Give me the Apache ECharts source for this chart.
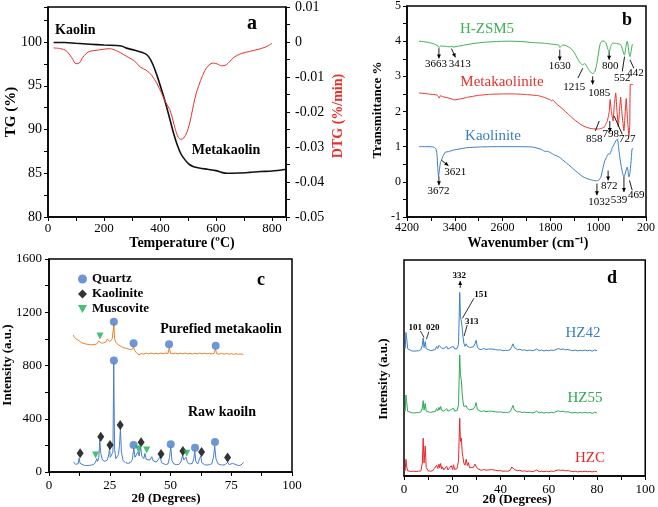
<!DOCTYPE html>
<html><head><meta charset="utf-8">
<script src="https://cdn.jsdelivr.net/npm/echarts@6/dist/echarts.min.js"></script>
<style>html,body{margin:0;padding:0;background:#fff}#c{width:658px;height:507px}</style>
</head><body><div id="c"></div>
<script>
// ---------- Panel a: TG / DTG ----------
const tgData = [[20,99.95],[60,99.95],[100,99.85],[150,99.75],[200,99.65],[262,99.55],[280,99.3],[310,99.05],[345,98.7],[360,98.3],[375,97.4],[390,96.1],[405,94.6],[420,93.0],[435,91.2],[450,89.4],[462,88.2],[475,87.2],[490,86.5],[505,86.0],[520,85.75],[540,85.6],[570,85.45],[600,85.3],[620,85.1],[640,85.0],[680,85.02],[720,85.1],[760,85.2],[800,85.25],[850,85.45]];
const dtgData = [[20,-0.0017],[45,-0.0019],[65,-0.0025],[85,-0.0045],[100,-0.0062],[112,-0.006],[125,-0.0043],[145,-0.0028],[180,-0.0023],[220,-0.0019],[245,-0.0025],[270,-0.0036],[290,-0.0045],[310,-0.0055],[330,-0.0072],[350,-0.008],[370,-0.0095],[390,-0.012],[405,-0.0145],[420,-0.0172],[435,-0.0193],[445,-0.022],[455,-0.025],[465,-0.0272],[475,-0.0278],[485,-0.0274],[495,-0.026],[505,-0.0235],[512,-0.021],[520,-0.0178],[530,-0.0145],[545,-0.011],[560,-0.0082],[575,-0.0066],[590,-0.006],[605,-0.0063],[620,-0.0068],[635,-0.0066],[650,-0.0055],[665,-0.0043],[690,-0.0033],[720,-0.0027],[750,-0.0021],[775,-0.0015],[800,-0.0004]];

// ---------- Panel b: FTIR ----------
const hzsm5Ir = [[4000,4.0],[3900,3.98],[3800,3.95],[3720,3.9],[3680,3.86],[3663,3.82],[3640,3.86],[3580,3.86],[3500,3.84],[3450,3.85],[3413,3.83],[3380,3.85],[3300,3.87],[3100,3.93],[2900,3.97],[2700,3.99],[2500,4.0],[2300,3.99],[2100,3.96],[2000,3.95],[1900,3.94],[1800,3.92],[1700,3.9],[1660,3.89],[1640,3.82],[1625,3.85],[1600,3.89],[1550,3.88],[1500,3.84],[1450,3.78],[1400,3.67],[1350,3.52],[1300,3.38],[1260,3.33],[1230,3.36],[1215,3.35],[1190,3.28],[1150,3.17],[1110,3.09],[1093,3.08],[1060,3.12],[1030,3.3],[1000,3.6],[970,3.9],[940,4.0],[900,4.0],[870,3.95],[840,3.78],[817,3.7],[790,3.85],[760,3.94],[734,3.94],[690,3.93],[650,3.92],[625,3.9],[595,3.78],[570,3.62],[559,3.61],[540,3.8],[514,4.0],[495,3.82],[480,3.62],[469,3.56],[450,3.7],[430,3.9],[415,3.91]];
const metaIr = [[4000,2.53],[3850,2.5],[3700,2.47],[3680,2.44],[3660,2.38],[3640,2.45],[3600,2.42],[3500,2.38],[3400,2.33],[3300,2.36],[3200,2.4],[3000,2.46],[2800,2.49],[2600,2.5],[2400,2.5],[2200,2.48],[2000,2.45],[1900,2.4],[1800,2.33],[1780,2.3],[1760,2.33],[1700,2.22],[1600,2.08],[1500,1.92],[1400,1.77],[1300,1.64],[1200,1.55],[1100,1.51],[1000,1.5],[950,1.52],[900,1.55],[870,1.65],[850,1.72],[830,1.85],[815,2.0],[800,2.34],[780,2.0],[750,1.73],[730,2.2],[707,2.53],[685,2.0],[663,1.56],[645,2.0],[625,2.41],[600,1.9],[569,1.45],[550,1.9],[531,2.37],[510,1.8],[486,1.31],[472,1.6],[462,2.77],[415,2.77]];
const kaolIr = [[4000,1.0],[3850,1.0],[3760,0.99],[3720,0.95],[3700,0.8],[3685,0.4],[3672,0.15],[3660,0.3],[3640,0.55],[3621,0.62],[3600,0.72],[3560,0.84],[3500,0.86],[3430,0.9],[3300,0.94],[3200,0.97],[3000,0.99],[2700,1.0],[2400,1.0],[2100,0.99],[1950,0.92],[1880,0.86],[1850,0.87],[1820,0.85],[1750,0.78],[1650,0.7],[1550,0.56],[1450,0.42],[1350,0.27],[1250,0.14],[1150,0.07],[1080,0.04],[1038,0.03],[990,0.05],[955,0.14],[920,0.4],[890,0.6],[860,0.7],[834,0.79],[800,0.8],[770,0.95],[730,1.08],[700,1.18],[679,1.22],[660,1.0],[640,0.72],[610,0.4],[585,0.2],[569,0.14],[545,0.25],[514,0.42],[500,0.3],[486,0.14],[465,0.3],[445,0.7],[431,0.94],[415,0.94]];
// annotations: [text, labelW, labelT, w1, T1, w2, T2, arrowHead]
const irNotes = [
 ['3663',3716,3.35,3666,3.8,3666,3.51,true],
 ['3413',3319,3.35,3456,3.79,3390,3.54,true],
 ['1630',1643,3.28,1643,3.76,1643,3.45,true],
 ['1215',1400,2.68,1340,2.95,1258,3.23,false],
 ['1085',982,2.53,1093,3.0,1093,2.77,true],
 ['800',800,3.28,817,3.7,817,3.47,true],
 ['552',597,2.95,559,3.56,597,3.14,false],
 ['442',377,3.09,469,3.47,403,3.23,false],
 ['858',1065,1.22,1048,1.45,982,1.73,false],
 ['798',790,1.37,806,1.73,806,1.42,true],
 ['727',514,1.22,733,1.87,597,1.35,false],
 ['3672',3673,-0.26,3666,0.15,3666,-0.1,true],
 ['3621',3393,0.28,3621,0.61,3506,0.46,true],
 ['1032',982,-0.57,1021,-0.05,1021,-0.38,true],
 ['872',817,-0.12,834,0.32,834,0.04,true],
 ['539',651,-0.52,569,0.14,569,-0.29,true],
 ['469',365,-0.38,476,0.04,431,-0.24,false]
];

// ---------- Panel c: XRD kaolin ----------
const purifiedXrd = [[10,1030],[10.5,1010],[11,1020],[11.5,995],[12,1005],[12.5,985],[13,990],[13.5,970],[14,978],[14.5,965],[15,972],[15.5,960],[16,968],[16.5,958],[17,965],[17.5,955],[18,962],[18.5,958],[19,966],[19.5,960],[20,972],[20.5,985],[21,975],[21.5,968],[22,975],[22.5,970],[23,985],[23.5,978],[24,1000],[24.5,985],[25,980],[25.5,990],[26,1000],[26.4,1060],[26.7,1110],[27,1000],[27.5,975],[28,962],[28.5,955],[29,950],[29.5,945],[30,940],[30.5,935],[31,928],[31.5,930],[32,920],[32.5,925],[33,915],[33.5,920],[34,912],[34.5,925],[34.8,945],[35.2,915],[35.5,905],[36,895],[36.5,890],[37,880],[37.5,886],[38,890],[39,885],[40,892],[41,887],[42,893],[43,888],[44,892],[45,887],[46,893],[47,888],[48,894],[49,890],[49.5,935],[50,892],[51,888],[52,893],[53,887],[54,892],[55,888],[56,893],[57,887],[58,891],[59,886],[60,892],[61,887],[62,893],[63,888],[64,892],[65,887],[66,891],[67,886],[68,892],[68.5,925],[69,889],[70,885],[71,891],[72,886],[73,890],[74,885],[75,889],[76,884],[77,888],[78,884],[79,887],[80,883]];
const rawXrd = [[10,75],[10.5,62],[11,58],[11.5,55],[12,62],[12.4,105],[12.8,65],[13.5,52],[14.5,50],[15.5,48],[16.5,50],[17.5,52],[18.5,58],[19.2,75],[19.6,100],[20,80],[20.5,110],[20.9,240],[21.3,140],[22,90],[23,80],[24,90],[24.6,130],[24.9,178],[25.2,110],[25.8,95],[26.3,150],[26.65,820],[27,170],[27.5,100],[28,95],[28.6,130],[29.0,200],[29.4,328],[29.8,150],[30.5,85],[31.5,70],[32.5,65],[33.5,70],[34.3,95],[34.9,178],[35.4,110],[36,115],[36.6,152],[37.1,120],[37.7,190],[38.2,120],[39,100],[39.5,140],[40,95],[40.8,80],[41.5,90],[42.3,115],[42.8,85],[43.5,100],[44.2,75],[45,70],[45.8,115],[46.3,70],[47,60],[48,55],[49,62],[49.6,110],[50.1,190],[50.6,85],[51.5,60],[52.5,55],[53.5,58],[54.3,75],[55,128],[55.5,90],[56.4,110],[57,70],[58,60],[59,65],[59.6,100],[60,160],[60.4,80],[61.2,60],[62,75],[62.4,120],[62.9,70],[64,55],[65,52],[66,55],[67,62],[67.7,110],[68.2,195],[68.7,100],[69.5,62],[70.5,55],[71.5,52],[72.5,55],[73.5,75],[74.2,55],[75.5,65],[76.3,50],[77,55],[78,48],[79,52],[79.6,58],[80,72]];
const quartzPts = [[26.7,837],[34.8,203],[50.1,208],[60.1,183],[68.3,225],[26.7,1129],[34.8,967],[49.4,959],[68.6,949]];
const kaolinitePts = [[12.8,140],[21.3,265],[25.1,203],[29.3,353],[37.9,223],[46.1,135],[55.1,158],[62.8,150],[73.5,108]];
const muscovitePts = [[19.2,128],[36.8,173],[40.2,165],[56.7,140],[21,1022]];

// ---------- Panel d: XRD zeolites ----------
const hz42Xrd = [[0.5,590],[0.8,665],[1.1,640],[1.5,590],[2,582],[3,580],[4,578],[5,579],[6,580],[7,585],[7.6,605],[7.95,640],[8.3,595],[8.8,622],[9.2,590],[10,582],[11,580],[12,583],[12.6,592],[13,585],[13.5,600],[14,590],[14.5,605],[14.8,598],[15.2,612],[15.6,592],[16,598],[16.5,590],[17,585],[17.7,600],[18.2,588],[19,584],[19.6,596],[20.2,590],[20.5,600],[21,588],[21.5,585],[22,590],[22.6,610],[23.1,850],[23.4,740],[23.8,735],[24.1,690],[24.4,650],[24.8,615],[25.3,600],[25.8,612],[26.3,600],[26.7,608],[27.2,595],[28,590],[28.8,598],[29.4,612],[29.9,628],[30.4,598],[31,588],[32,585],[33,590],[34,586],[35,588],[35.8,594],[36.3,588],[37,590],[38,585],[39,583],[40,584],[41,580],[42,582],[43,581],[44,585],[44.7,600],[45.2,612],[45.7,595],[46.3,590],[47,585],[48,587],[49,582],[50,584],[51,580],[52,583],[53,580],[54,582],[55,588],[55.5,584],[56,580],[57,583],[58,579],[59,582],[60,580],[61,583],[62,581],[63,586],[64,590],[65,586],[66,588],[67,584],[68,586],[69,582],[70,580],[71,583],[72,579],[73,582],[74,580],[75,583],[76,580],[77,582],[78,578],[79,583],[80,580]];
const hz55Xrd = [[0.5,300],[0.8,375],[1.1,345],[1.5,300],[2,295],[3,293],[4,292],[5,293],[6,294],[7,297],[7.6,315],[7.95,349],[8.3,305],[8.8,336],[9.2,300],[10,296],[11,294],[12,297],[12.6,305],[13,298],[13.5,312],[14,302],[14.5,318],[14.8,306],[15.2,322],[15.6,304],[16,310],[16.5,300],[17,298],[17.7,312],[18.2,300],[19,297],[19.6,308],[20.2,300],[20.5,314],[21,300],[21.5,298],[22,303],[22.6,330],[23.1,560],[23.4,470],[23.8,440],[24.1,380],[24.4,350],[24.8,322],[25.3,315],[25.8,325],[26.3,312],[26.7,320],[27.2,306],[28,302],[28.8,310],[29.4,322],[29.9,340],[30.4,308],[31,300],[32,298],[33,302],[34,298],[35,300],[35.8,306],[36.3,300],[37,302],[38,297],[39,296],[40,297],[41,294],[42,295],[43,294],[44,298],[44.7,314],[45.2,327],[45.7,306],[46.3,300],[47,297],[48,298],[49,294],[50,296],[51,293],[52,295],[53,292],[54,294],[55,300],[55.5,296],[56,292],[57,295],[58,291],[59,294],[60,292],[61,295],[62,293],[63,298],[64,302],[65,298],[66,300],[67,296],[68,297],[69,294],[70,292],[71,295],[72,291],[73,294],[74,292],[75,295],[76,292],[77,294],[78,290],[79,295],[80,292]];
const hzcXrd = [[0.5,25],[0.8,77],[1.1,45],[1.5,24],[2,22],[3,21],[4,22],[5,21],[6,22],[7,24],[7.6,60],[7.95,175],[8.3,60],[8.8,139],[9.2,40],[10,24],[11,22],[12,25],[12.6,35],[13,28],[13.5,50],[14,35],[14.5,55],[14.8,38],[15.2,58],[15.6,32],[16,42],[16.5,28],[17,25],[17.7,45],[18.2,28],[19,26],[19.6,48],[20.2,30],[20.5,52],[21,30],[21.5,28],[22,35],[22.6,70],[23.1,267],[23.4,160],[23.8,175],[24.1,110],[24.4,90],[24.8,60],[25.3,50],[25.8,78],[26.3,48],[26.7,62],[27.2,38],[28,32],[28.8,40],[29.4,55],[29.9,48],[30.4,35],[31,28],[32,26],[33,30],[34,27],[35,28],[35.8,34],[36.3,30],[37,32],[38,26],[39,24],[40,25],[41,22],[42,23],[43,22],[44,26],[44.7,42],[45.2,40],[45.7,30],[46.3,28],[47,25],[48,26],[49,22],[50,24],[51,21],[52,23],[53,20],[54,22],[55,28],[55.5,24],[56,20],[57,22],[58,20],[59,22],[60,20],[61,23],[62,21],[63,25],[64,28],[65,26],[66,27],[67,24],[68,25],[69,22],[70,20],[71,22],[72,19],[73,21],[74,20],[75,22],[76,20],[77,21],[78,19],[79,22],[80,20]];
// [text, labelTheta, labelI, x1, y1, x2, y2, head]
const xrdNotes = [
 ['332',22.9,926,23.3,870,23.3,903,true],
 ['151',31.9,838,29,823,24.2,730,false],
 ['313',28.1,715,26.2,699,24.9,648,false],
 ['101',4.7,688,6.8,671,8.3,642,false],
 ['020',11.9,688,10.3,668,9.3,633,false]
];

const FONT = 'Liberation Serif';
const C = {tg:'#111111', dtg:'#e8302a', irG:'#3cb054', irR:'#e8302a', irB:'#3b7dc4',
  orange:'#ee7f2d', rawBlue:'#4a7fc8', qz:'#4a7cc9', mus:'#18b050',
  dB:'#3a7fc6', dG:'#2eaa55', dR:'#e8262b'};

function isMult(v, m){ const k=v/m; return Math.abs(k-Math.round(k))<1e-6; }
const axisBase = {
  axisLine:{show:true,onZero:false,lineStyle:{color:'#000',width:1.5}},
  axisTick:{show:true,inside:false,length:4,lineStyle:{color:'#000',width:1}},
  splitLine:{show:false}
};
function lab(size, margin, fmt){ return {fontFamily:FONT,fontSize:size,color:'#000',margin:margin,formatter:fmt,showMinLabel:true,showMaxLabel:true}; }

const option = {
  animation:false,
  backgroundColor:'#fff',
  grid:[
    {left:48,top:7,width:238,height:210,show:true,borderColor:'#000',borderWidth:1.5},
    {left:407,top:4,width:242,height:213,show:true,borderColor:'#000',borderWidth:1.5},
    {left:49,top:259,width:243,height:213,show:true,borderColor:'#000',borderWidth:1.5},
    {left:404,top:260,width:245,height:216,show:true,borderColor:'#000',borderWidth:1.5}
  ],
  xAxis:[
    Object.assign({type:'value',gridIndex:0,min:0,max:850,interval:100,axisLabel:lab(13,5,v=>isMult(v,200)?String(v):'')},axisBase),
    Object.assign({type:'value',gridIndex:1,min:200,max:4200,interval:400,inverse:true,axisLabel:lab(12,5,v=>isMult(v-200,800)?String(v):'')},axisBase),
    Object.assign({type:'value',gridIndex:2,min:0,max:100,interval:12.5,axisLabel:lab(13,7,v=>isMult(v,25)?String(v):'')},axisBase),
    Object.assign({type:'value',gridIndex:3,min:0,max:100,interval:10,axisLabel:lab(13,7,v=>isMult(v,20)?String(v):'')},axisBase)
  ],
  yAxis:[
    Object.assign({type:'value',gridIndex:0,min:80,max:104,interval:2.5,axisLabel:lab(14,6,v=>isMult(v,5)&&v<=100?String(v):'')},axisBase),
    Object.assign({type:'value',gridIndex:0,position:'right',min:-0.05,max:0.01,interval:0.005,axisLabel:lab(14,9,v=>{if(!isMult(v,0.01))return '';const r=Math.round(v/0.01);return r===0?'0':(r/100).toFixed(2);})},axisBase),
    Object.assign({type:'value',gridIndex:1,min:-1,max:5,interval:0.5,axisLabel:lab(12,6,v=>isMult(v,1)?String(Math.round(v)):'')},axisBase),
    Object.assign({type:'value',gridIndex:2,min:0,max:1600,interval:200,axisLabel:lab(13,7,v=>isMult(v,400)?String(v):'')},axisBase),
    {type:'value',gridIndex:3,min:0,max:1000,show:false,splitLine:{show:false}}
  ],
  legend:{
    show:true, orient:'vertical', left:73, top:267, itemWidth:9, itemHeight:9, itemGap:1,
    textStyle:{fontFamily:FONT,fontSize:13,fontWeight:'bold',color:'#000',lineHeight:14},
    data:[{name:'Quartz',icon:'circle'},{name:'Kaolinite',icon:'diamond'},{name:'Muscovite',icon:'path://M0,0L10,0L5,9Z'}]
  },
  series:[
    {type:'line',name:'TG',xAxisIndex:0,yAxisIndex:0,data:tgData,smooth:0.3,showSymbol:false,lineStyle:{color:C.tg,width:1.6},itemStyle:{color:C.tg}},
    {type:'line',name:'DTG',xAxisIndex:0,yAxisIndex:1,data:dtgData,smooth:0.3,showSymbol:false,lineStyle:{color:C.dtg,width:1},itemStyle:{color:C.dtg}},
    {type:'line',name:'H-ZSM5',xAxisIndex:1,yAxisIndex:2,data:hzsm5Ir,smooth:0.2,showSymbol:false,lineStyle:{color:C.irG,width:1},itemStyle:{color:C.irG}},
    {type:'line',name:'Metakaolinite',xAxisIndex:1,yAxisIndex:2,data:metaIr,smooth:0.1,showSymbol:false,lineStyle:{color:C.irR,width:1},itemStyle:{color:C.irR}},
    {type:'line',name:'KaoliniteIR',xAxisIndex:1,yAxisIndex:2,data:kaolIr,smooth:0.2,showSymbol:false,lineStyle:{color:C.irB,width:1},itemStyle:{color:C.irB}},
    {type:'line',name:'Purified',xAxisIndex:2,yAxisIndex:3,data:purifiedXrd,showSymbol:false,lineStyle:{color:C.orange,width:1},itemStyle:{color:C.orange}},
    {type:'line',name:'Raw',xAxisIndex:2,yAxisIndex:3,data:rawXrd,showSymbol:false,lineStyle:{color:C.rawBlue,width:1},itemStyle:{color:C.rawBlue}},
    {type:'scatter',name:'Quartz',xAxisIndex:2,yAxisIndex:3,data:quartzPts,symbol:'circle',symbolSize:8,itemStyle:{color:C.qz},z:5},
    {type:'scatter',name:'Kaolinite',xAxisIndex:2,yAxisIndex:3,data:kaolinitePts,symbol:'diamond',symbolSize:[7,10],itemStyle:{color:'#000'},z:5},
    {type:'scatter',name:'Muscovite',xAxisIndex:2,yAxisIndex:3,data:muscovitePts,symbol:'triangle',symbolRotate:180,symbolSize:7,itemStyle:{color:C.mus},z:5},
    {type:'line',name:'HZ42',xAxisIndex:3,yAxisIndex:4,data:hz42Xrd,showSymbol:false,lineStyle:{color:C.dB,width:1},itemStyle:{color:C.dB}},
    {type:'line',name:'HZ55',xAxisIndex:3,yAxisIndex:4,data:hz55Xrd,showSymbol:false,lineStyle:{color:C.dG,width:1},itemStyle:{color:C.dG}},
    {type:'line',name:'HZC',xAxisIndex:3,yAxisIndex:4,data:hzcXrd,showSymbol:false,lineStyle:{color:C.dR,width:1},itemStyle:{color:C.dR}}
  ]
};

const chart = echarts.init(document.getElementById('c'), null, {renderer:'canvas'});
chart.setOption(option);

function txt(s, x, y, o){
  o = o||{};
  return {type:'text', x:x, y:y, rotation:o.rot||0, z:50, silent:true,
    style:{text:s, x:0, y:0, align:o.align||'center', verticalAlign:'middle',
      fontFamily:FONT, fontSize:o.size||13, fontWeight:o.bold?'bold':'normal', fill:o.color||'#000'}};
}
const g = [];
// panel a
g.push(txt('Kaolin',55,30,{align:'left',bold:true,size:14}));
g.push(txt('Metakaolin',226,150,{bold:true,size:14}));
g.push(txt('a',252,24,{bold:true,size:20}));
g.push(txt('TG (%)',11,112,{bold:true,size:15,rot:Math.PI/2}));
g.push(txt('DTG (%/min)',338,116,{bold:true,size:14,rot:Math.PI/2,color:C.dtg}));
g.push(txt('Temperature (ºC)',182,243,{bold:true,size:14}));
// panel b
g.push(txt('H-ZSM5',487,29,{size:15,color:C.irG}));
g.push(txt('Metakaolinite',502,82,{size:15,color:C.irR}));
g.push(txt('Kaolinite',493,136,{size:15,color:C.irB}));
g.push(txt('b',627,20,{bold:true,size:18}));
g.push(txt('Transmittance %',378,110,{bold:true,size:13,rot:Math.PI/2}));
g.push(txt('Wavenumber (cm⁻¹)',528,243,{bold:true,size:14}));
// panel c
g.push(txt('c',261,280,{bold:true,size:18}));
g.push(txt('Purefied metakaolin',221,329,{bold:true,size:14}));
g.push(txt('Raw kaoiln',222,412,{bold:true,size:14}));
g.push(txt('Intensity (a.u.)',8,365,{bold:true,size:13,rot:Math.PI/2}));
g.push(txt('2θ (Degrees)',166,499,{bold:true,size:13}));
// panel d
g.push(txt('d',612,278,{bold:true,size:18}));
g.push(txt('HZ42',583,333,{size:15,color:C.dB}));
g.push(txt('HZ55',585,398,{size:15,color:C.dG}));
g.push(txt('HZC',590,458,{size:15,color:C.dR}));
g.push(txt('Intensity (a.u.)',384,379,{bold:true,size:13,rot:Math.PI/2}));
g.push(txt('2θ (Degrees)',517,500,{bold:true,size:13}));

function arrow(p1, p2, head, w){
  const els = [{type:'line',z:50,silent:true,shape:{x1:p1[0],y1:p1[1],x2:p2[0],y2:p2[1]},style:{stroke:'#000',lineWidth:w||0.9}}];
  if(head){
    const dx=p2[0]-p1[0], dy=p2[1]-p1[1], L=Math.hypot(dx,dy)||1;
    const ux=dx/L, uy=dy/L, nx=-uy, ny=ux, hl=4, hw=2;
    els.push({type:'polygon',z:50,silent:true,shape:{points:[[p2[0],p2[1]],[p2[0]-ux*hl+nx*hw,p2[1]-uy*hl+ny*hw],[p2[0]-ux*hl-nx*hw,p2[1]-uy*hl-ny*hw]]},style:{fill:'#000'}});
  }
  return els;
}
const fb = {xAxisIndex:1,yAxisIndex:2};
irNotes.forEach(n=>{
  const lp = chart.convertToPixel(fb,[n[1],n[2]]);
  g.push(txt(n[0],lp[0],lp[1],{size:11}));
  arrow(chart.convertToPixel(fb,[n[3],n[4]]), chart.convertToPixel(fb,[n[5],n[6]]), n[7]).forEach(e=>g.push(e));
});
const fd = {xAxisIndex:3,yAxisIndex:4};
xrdNotes.forEach(n=>{
  const lp = chart.convertToPixel(fd,[n[1],n[2]]);
  g.push(txt(n[0],lp[0],lp[1],{size:9,bold:true}));
  arrow(chart.convertToPixel(fd,[n[3],n[4]]), chart.convertToPixel(fd,[n[5],n[6]]), n[7], 0.8).forEach(e=>g.push(e));
});
chart.setOption({graphic:g});
</script>
</body></html>
